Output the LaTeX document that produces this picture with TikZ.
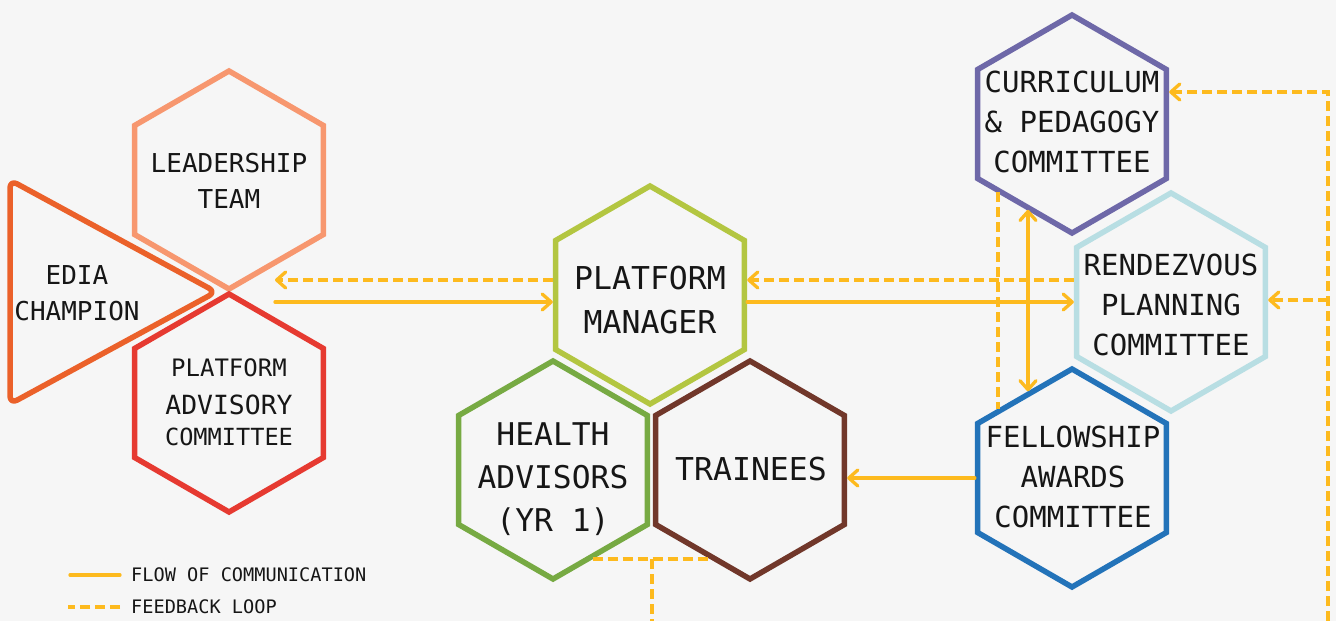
\documentclass[tikz,border=0pt]{standalone}
\usepackage{fontspec}
\setmainfont{DejaVu Sans Mono}
\usetikzlibrary{shapes.geometric,arrows.meta,calc}
\definecolor{bg}{HTML}{F6F6F6}
\definecolor{ink}{HTML}{161616}
\definecolor{arr}{HTML}{FDBA1E}
\definecolor{cLT}{HTML}{F7976F}
\definecolor{cED}{HTML}{EB612A}
\definecolor{cPA}{HTML}{E63A31}
\definecolor{cPM}{HTML}{B3C641}
\definecolor{cHA}{HTML}{77AA43}
\definecolor{cTR}{HTML}{71372A}
\definecolor{cCP}{HTML}{6E68A8}
\definecolor{cRP}{HTML}{B8DEE3}
\definecolor{cFA}{HTML}{2373B9}
\begin{document}
\begin{tikzpicture}[x=1pt,y=-1pt,
  hexa/.style={regular polygon, regular polygon sides=6, shape border rotate=30,
    minimum size=218pt, inner sep=0pt, line width=5.5pt, draw=#1},
  lbl/.style={align=center, text=ink, inner sep=0pt},
  flow/.style={draw=arr, line width=3.3pt, line cap=round},
  fb/.style={draw=arr, line width=3.3pt, dash pattern=on 10pt off 5pt},
  tip/.style={-{Straight Barb[round,length=9pt,width=16pt]}},
  tips/.style={{Straight Barb[round,length=9pt,width=16pt]}-{Straight Barb[round,length=9pt,width=16pt]}},
]
\fill[bg] (0,0) rectangle (1336,621);
\useasboundingbox (0,0) rectangle (1336,621);

% EDIA triangle
\draw[draw=cED, line width=5.5pt, rounded corners=8pt, line join=round]
  (10,180) coordinate (e1) -- (216,292) coordinate (e2) -- (10,404) coordinate (e3) -- cycle;
\node[lbl, font=\fontsize{26}{36}\selectfont] (edt) at (77,293) {EDIA\\CHAMPION};

% hexagons
\node[hexa=cLT] (lt) at (229,180) {};
\node[hexa=cPA] (pa) at (229,403) {};
\node[hexa=cPM] (pm) at (650,295) {};
\node[hexa=cHA] (ha) at (553,470) {};
\node[hexa=cTR] (tr) at (750,470) {};
\node[hexa=cCP] (cp) at (1072,124) {};
\node[hexa=cRP] (rp) at (1171,302) {};
\node[hexa=cFA] (fa) at (1072,478) {};

% labels
\node[lbl, font=\fontsize{26}{36}\selectfont] (ltt) at (229,181) {LEADERSHIP\\TEAM};
\node[lbl, font=\fontsize{24}{30}\selectfont] (pat1) at (229,368) {PLATFORM};
\node[lbl, font=\fontsize{26.4}{30}\selectfont] (pat2) at (229,405) {ADVISORY};
\node[lbl, font=\fontsize{23.6}{30}\selectfont] (pat3) at (229,437) {COMMITTEE};
\node[lbl, font=\fontsize{31.5}{44}\selectfont] (pmt) at (650,300) {PLATFORM\\MANAGER};
\node[lbl, font=\fontsize{31.3}{43}\selectfont] (hat) at (553,479) {HEALTH\\ADVISORS\\(YR 1)};
\node[lbl, font=\fontsize{31.5}{44}\selectfont] (trt) at (751,469) {TRAINEES};
\node[lbl, font=\fontsize{29}{40}\selectfont] (cpt) at (1072,122) {CURRICULUM\\\& PEDAGOGY\\COMMITTEE};
\node[lbl, font=\fontsize{29}{40}\selectfont] (rpt) at (1171,305) {RENDEZVOUS\\PLANNING\\COMMITTEE};
\node[lbl, font=\fontsize{29}{40}\selectfont] (fat) at (1073,477) {FELLOWSHIP\\AWARDS\\COMMITTEE};

% free-end coordinates
\coordinate (ld) at (275,280);
\coordinate (ls) at (275,302);
\coordinate (md) at (900,280);
\coordinate (ms) at (900,302);
\coordinate (vx) at (1028,0);
\coordinate (vd) at (998,0);
\coordinate (rb) at (1328,621);
\coordinate (rc1) at (1328,92);
\coordinate (rc2) at (1328,300);
\coordinate (hb) at (652,559);
\coordinate (hbb) at (652,621);

% left connectors
\draw[fb, tip] (ld -| pm.west) -- (ld);
\draw[flow, tip] (ls) -- (ls -| pm.west);
% middle connectors
\draw[fb, tip] (md -| rp.west) -- (md -| pm.east);
\draw[flow, tip] (ms -| pm.east) -- (ms -| rp.west);
% vertical between curriculum and fellowship
\draw[flow, tips] (vx |- cp.242) -- (vx |- fa.117);
\draw[fb] (vd |- cp.222) -- (vd |- fa.137);
% fellowship to trainees
\draw[flow, tip] (fa.west) -- (fa.west -| tr.east);
% right feedback loop
\draw[fb, tip] (rb) -- (rc1) -- (rc1 -| cp.east);
\draw[fb, tip] (rc2) -- (rc2 -| rp.east);
% bottom feedback loop
\draw[fb] (hb -| ha.294) -- (hb -| tr.247);
\draw[fb] (hb) -- (hbb);

% legend
\node[lbl, anchor=west, font=\fontsize{18.6}{22}\selectfont] (lg1) at (131,575) {FLOW OF COMMUNICATION};
\node[lbl, anchor=west, font=\fontsize{18.6}{22}\selectfont] (lg2) at (131,607) {FEEDBACK LOOP};
\draw[flow] ([xshift=-11pt]lg1.west) -- ++(-50,0);
\draw[fb, line cap=butt] ([xshift=-11pt]lg2.west) -- ++(-52,0);
\end{tikzpicture}
\end{document}
